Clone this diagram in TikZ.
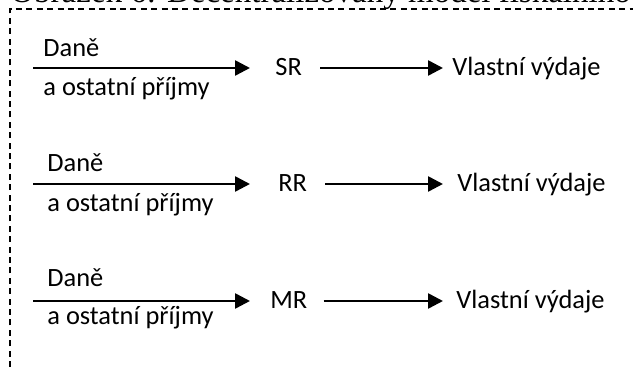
\documentclass[tikz,border=0pt]{standalone}
\usepackage{fontspec}
\setmainfont{Carlito}
\newfontfamily\titlefont{Liberation Serif}
\usetikzlibrary{arrows.meta}
\begin{document}
\begin{tikzpicture}[x=0.5pt,y=-0.5pt,
  lbl/.style={font=\fontsize{13.2}{15}\selectfont, inner sep=0pt, anchor=base west},
  flow/.style={line width=1.3pt, -{Triangle[length=7.5pt,width=7.5pt]}},
  frame/.style={line width=0.9pt, dash pattern=on 3pt off 2.2pt}]
\useasboundingbox (0,0) rectangle (633,367);
\clip (0,0) rectangle (633,367);
\node[inner sep=0pt, anchor=base west, font=\titlefont\fontsize{16.5}{18}\selectfont] (title) at (10,3) {Obrázek 6: Decentralizovaný model fiskálního federalismu};
\draw[frame] (10,367) -- (10,9) -- (633,9);
% row 1
\coordinate (s1) at (33,68);
\node[lbl] (d1) at (43,57) {Daně};
\node[lbl] (o1) at (43,96) {a ostatní příjmy};
\node[lbl] (g1) at (275,76) {SR};
\node[lbl] (v1) at (452,76) {Vlastní výdaje};
\draw[flow, shorten >=12.5pt] (s1) -- (s1 -| g1.west);
\draw[flow, shorten <=9pt, shorten >=4.5pt] (g1.east |- s1) -- (v1.west |- s1);
% row 2
\coordinate (s2) at (33,184);
\node[lbl] (d2) at (47,172) {Daně};
\node[lbl] (o2) at (47,212) {a ostatní příjmy};
\node[lbl] (g2) at (278,192) {RR};
\node[lbl] (v2) at (457,192) {Vlastní výdaje};
\draw[flow, shorten >=14pt] (s2) -- (s2 -| g2.west);
\draw[flow, shorten <=9pt, shorten >=7pt] (g2.east |- s2) -- (v2.west |- s2);
% row 3
\coordinate (s3) at (33,301);
\node[lbl] (d3) at (47,287) {Daně};
\node[lbl] (o3) at (47,325) {a ostatní příjmy};
\node[lbl] (g3) at (270,309) {MR};
\node[lbl] (v3) at (456,309) {Vlastní výdaje};
\draw[flow, shorten >=10pt] (s3) -- (s3 -| g3.west);
\draw[flow, shorten <=8pt, shorten >=6.5pt] (g3.east |- s3) -- (v3.west |- s3);
\end{tikzpicture}
\end{document}
